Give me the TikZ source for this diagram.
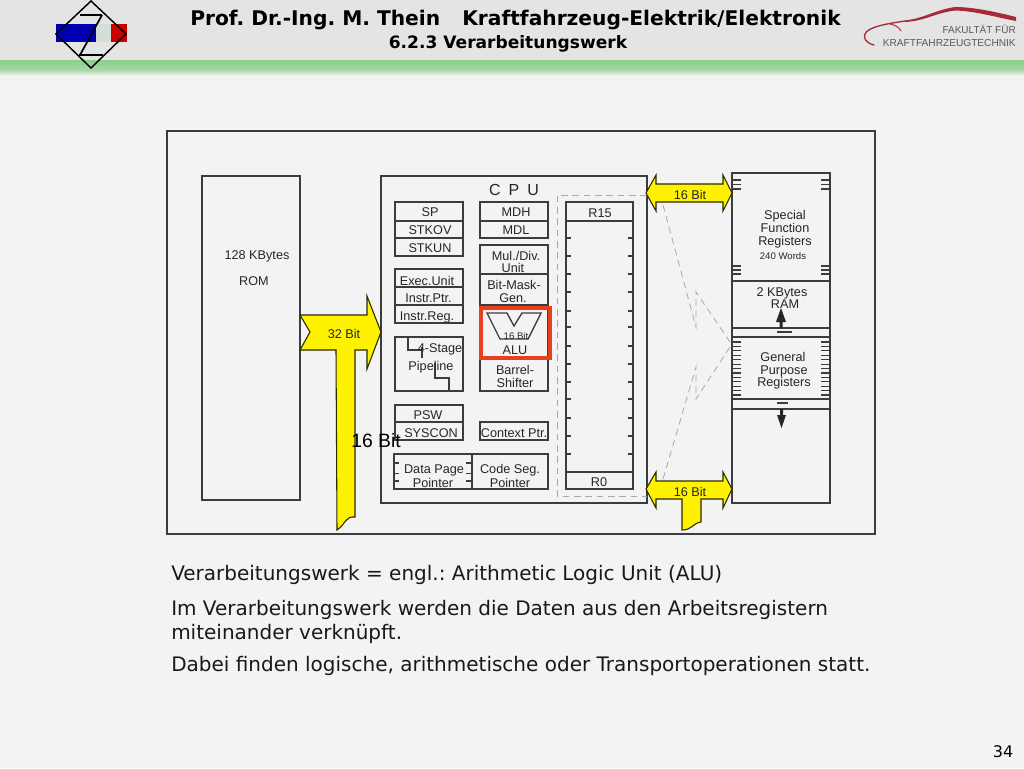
\documentclass[tikz,border=0pt]{standalone}
\usepackage{fontspec}
\setmainfont{DejaVu Sans}
\newfontfamily\arialf{Liberation Sans}
\frenchspacing
\definecolor{bgc}{HTML}{F3F3F3}
\definecolor{headc}{HTML}{E4E4E4}
\definecolor{linec}{HTML}{3C3C3C}
\definecolor{dashc}{HTML}{A8A8A8}
\definecolor{redc}{HTML}{E8401C}
\definecolor{arrowline}{HTML}{2A2A00}
\definecolor{carred}{HTML}{A82A3A}
\definecolor{bandtop}{HTML}{8CD08C}
\definecolor{bandmid}{HTML}{A8D8A8}
\definecolor{bandlow}{HTML}{EDF0ED}
\tikzset{
  frame/.style={draw=linec,line width=1.1pt},
  thin frame/.style={draw=linec,line width=1pt},
  tick/.style={draw=linec,line width=0.9pt},
  bus/.style={fill=yellow,draw=arrowline,line width=0.8pt,line join=miter},
  dashline/.style={draw=dashc,line width=0.6pt,dash pattern=on 5pt off 3.5pt},
  lab/.style={inner sep=0pt,anchor=base,yshift=-3.4pt,font=\arialf\fontsize{9.5}{10}\selectfont,text=black!85},
  smalllab/.style={lab,yshift=0.8pt,font=\arialf\fontsize{7.2}{8}\selectfont},
  body/.style={inner sep=0pt,anchor=base west,font=\fontsize{15}{16}\selectfont,text=black!90},
}
\begin{document}
\begin{tikzpicture}[x=0.75pt,y=-0.75pt]
\useasboundingbox (0,0) rectangle (1024,768);
\fill[bgc] (0,0) rectangle (1024,768);
\fill[headc] (0,0) rectangle (1024,60);
\fill[bandtop] (0,60) rectangle (1024,61);
\shade[top color=bandtop,bottom color=bandmid] (0,61) rectangle (1024,70);
\shade[top color=bandmid,bottom color=bandlow] (0,70) rectangle (1024,75);
% left logo
\fill[blue!70!black] (56,24) rectangle (96,42);
\fill[green!8!gray!30!white] (96,24) rectangle (111,42);
\fill[red!80!black] (111,24) rectangle (127,42);
\draw[black,line width=1.1pt,line join=miter] (91,1) -- (126,34) -- (91,68) -- (56,34) -- cycle;
\draw[black,line width=1.5pt] (80,15) -- (102,15) (79,55) -- (103,55);
\draw[black,line width=1.3pt] (102,15) -- (80,55);
% right logo
\draw[carred,line width=1pt,line cap=round] (874,45) .. controls (866,43) and (863,38) .. (865,34) .. controls (868,27) and (885,24) .. (905,21);
\draw[carred,line width=0.7pt,line cap=round] (890,24) .. controls (895,25) and (899,27) .. (901,31);
\fill[carred] (905,20.5) .. controls (925,18) and (935,10) .. (955,7) .. controls (975,7) and (1000,13) .. (1016,17) -- (1016,21) .. controls (995,17) and (975,11) .. (955,10.5) .. controls (935,13) and (925,21) .. (905,22) -- cycle;
\node[inner sep=0pt,anchor=base east,font=\arialf\fontsize{7.5}{8}\selectfont,text=black!65] (fak) at (1016,33) {FAKULTÄT FÜR};
\node[inner sep=0pt,anchor=base east,font=\arialf\fontsize{7.6}{8}\selectfont,text=black!65] (kft) at (1016,46) {KRAFTFAHRZEUGTECHNIK};
% header text
\node[inner sep=0pt,anchor=base west,font=\bfseries\fontsize{15.15}{16}\selectfont] (titlea) at (190,25) {Prof. Dr.-Ing. M. Thein};
\node[inner sep=0pt,anchor=base west,font=\bfseries\fontsize{15.15}{16}\selectfont] (titleb) at (462,25) {Kraftfahrzeug-Elektrik/Elektronik};
\node[inner sep=0pt,anchor=base,font=\bfseries\fontsize{12.8}{14}\selectfont] (subtitle) at (508,48) {6.2.3 Verarbeitungswerk};
% outer frames
\draw[frame] (167,131) rectangle (875,534);
\draw[frame] (202,176) rectangle (300,500);
\draw[frame] (381,176) rectangle (647,503);
% dashed
\draw[dashline] (647,195) -- (557,195) -- (557,496) -- (647,496);
\draw[dashline] (663,205) -- (696,327) -- (696,292) -- (730,342);
\draw[dashline] (663,479) -- (696,367) -- (696,399) -- (730,347);
% left register stacks
\draw[thin frame] (395,202) rectangle (463,221) (395,221) rectangle (463,238) (395,238) rectangle (463,256);
\draw[thin frame] (480,202) rectangle (548,221) (480,221) rectangle (548,238);
\draw[thin frame] (480,245) rectangle (548,274) (480,274) rectangle (548,305);
\draw[thin frame] (395,269) rectangle (463,287) (395,287) rectangle (463,305) (395,305) rectangle (463,323);
\draw[linec,line width=1.6pt] (395,287) -- (463,287);
\draw[thin frame] (395,337) rectangle (463,391);
\draw[thin frame] (408,337) -- (408,350) -- (423,350) (422,347) -- (422,358) (435,363) -- (435,378) -- (449,378) -- (449,391);
\draw[thin frame] (480,305) rectangle (548,391);
\draw[thin frame] (395,405) rectangle (463,422) (395,422) rectangle (463,440);
\draw[thin frame] (480,422) rectangle (548,440);
\draw[thin frame] (394,454) rectangle (472,489) (472,454) rectangle (548,489);
\foreach \yy in {463,473.5,481} {
  \draw[tick] (394,\yy) -- (399,\yy) (472,\yy) -- (466,\yy);
}
% ALU
\draw[thin frame,line join=miter] (487,313) -- (507,313) -- (514,326) -- (522,313) -- (541,313) -- (528,339) -- (500,339) -- cycle;
\draw[redc,line width=3pt] (481,308) rectangle (549.5,358);
% R15..R0
\draw[thin frame] (566,202) rectangle (633,489);
\draw[thin frame] (566,221) -- (633,221) (566,472) -- (633,472);
\foreach \yy in {238,256,274,292,311,327,346,364,382,399,418,436,454} {
  \draw[tick] (566,\yy) -- (571,\yy) (633,\yy) -- (628,\yy);
}
% memory block
\draw[frame] (732,173) rectangle (830,503);
\draw[thin frame] (732,281) -- (830,281) (732,328) -- (830,328) (732,337) -- (830,337) (732,399) -- (830,399) (732,409) -- (830,409);
\foreach \yy in {180,184.5,189,266,270,274} {
  \draw[tick] (732,\yy) -- (741,\yy) (830,\yy) -- (821,\yy);
}
\foreach \ii in {0,...,12} {
  \draw[tick] (732,342+\ii*4.42) -- (741,342+\ii*4.42) (830,342+\ii*4.42) -- (821,342+\ii*4.42);
}
\draw[linec,line width=2.2pt] (777,332) -- (792,332) (777,403) -- (788,403);
\fill[black!85] (779.5,328) -- (779.5,322) -- (776,322) -- (781,308) -- (786,322) -- (782.5,322) -- (782.5,328) -- cycle;
\fill[black!85] (780,409) -- (780,415) -- (777,415) -- (781.5,428) -- (786,415) -- (783,415) -- (783,409) -- cycle;
% buses
\draw[bus] (646,193) -- (656,175) -- (656,184) -- (723,184) -- (723,175) -- (732,193) -- (723,211) -- (723,202) -- (656,202) -- (656,211) -- cycle;
\draw[bus] (646,489) -- (656,472) -- (656,481) -- (723,481) -- (723,472) -- (732,489) -- (723,508) -- (723,499) -- (701,499) -- (701,522) .. controls (693,523) and (692,530) .. (682,530) -- (682,499) -- (656,499) -- (656,508) -- cycle;
\draw[bus] (300,315) -- (367,315) -- (367,296) -- (381,332) -- (367,369) -- (367,350) -- (355,350) -- (355,517) .. controls (345,516) and (346,524) .. (337,530) -- (336,350) -- (300,350) -- (310,332) -- cycle;
% labels
\node[lab] (rom1) at (257,255) {128 KBytes};
\node[lab] (rom2) at (254,281) {ROM};
\node[lab] (b32) at (344,333.5) {32 Bit};
\node[lab,font=\arialf\fontsize{12}{13}\selectfont] (cpu) at (514,191) {C\hspace{0.5em}P\hspace{0.5em}U};
\node[lab] (sp) at (430,212) {SP};
\node[lab] (stkov) at (430,230) {STKOV};
\node[lab] (stkun) at (430,248) {STKUN};
\node[lab] (mdh) at (516,212) {MDH};
\node[lab] (mdl) at (516,230) {MDL};
\node[lab] (mul) at (516,255.5) {Mul./Div.};
\node[lab] (unit) at (513,268) {Unit};
\node[lab] (bitm) at (514,285) {Bit-Mask-};
\node[lab] (gen) at (513,297.5) {Gen.};
\node[lab] (exec) at (427,280.5) {Exec.Unit};
\node[lab] (iptr) at (428.5,298) {Instr.Ptr.};
\node[lab] (ireg) at (427,316) {Instr.Reg.};
\node[lab] (stage) at (440,347.5) {4-Stage};
\node[lab] (pipe) at (431,366) {Pipeline};
\node[smalllab] (b16a) at (516,336) {16 Bit};
\node[lab] (alu) at (515,350) {ALU};
\node[lab] (barrel) at (515,370) {Barrel-};
\node[lab] (shift) at (515,383) {Shifter};
\node[lab] (psw) at (428,415) {PSW};
\node[lab] (syscon) at (431,433) {SYSCON};
\node[lab] (ctx) at (514,433) {Context Ptr.};
\node[lab] (dp) at (434,469) {Data Page};
\node[lab] (dp2) at (433,482.5) {Pointer};
\node[lab] (cs) at (510,469) {Code Seg.};
\node[lab] (cs2) at (510,482.5) {Pointer};
\node[lab] (r15) at (600,212.5) {R15};
\node[lab] (r0) at (599,482) {R0};
\node[lab] (b16t) at (690,194.5) {16 Bit};
\node[lab] (b16b) at (690,491.5) {16 Bit};
\node[lab] (sf1) at (785,215) {Special};
\node[lab] (sf2) at (785,228) {Function};
\node[lab] (sf3) at (785,241) {Registers};
\node[smalllab] (w240) at (783,256.5) {240 Words};
\node[lab] (ram1) at (782,291.5) {2 KBytes};
\node[lab] (ram2) at (785,304) {RAM};
\node[lab] (gp1) at (783,356.5) {General};
\node[lab] (gp2) at (784,369.5) {Purpose};
\node[lab] (gp3) at (784,382) {Registers};
\node[lab,yshift=-1.6pt,font=\arialf\fontsize{14.5}{15}\selectfont,text=black] (big16) at (376,441) {16 Bit};
% body
\node[body] (t1) at (171,580) {Verarbeitungswerk = engl.: Arithmetic Logic Unit (ALU)};
\node[body] (t2) at (171,615) {Im Verarbeitungswerk werden die Daten aus den Arbeitsregistern};
\node[body] (t3) at (171,639) {miteinander verknüpft.};
\node[body] (t4) at (171,671) {Dabei finden logische, arithmetische oder Transportoperationen statt.};
\node[inner sep=0pt,anchor=base,font=\fontsize{12}{13}\selectfont] (page) at (1003,757) {34};
\end{tikzpicture}
\end{document}
